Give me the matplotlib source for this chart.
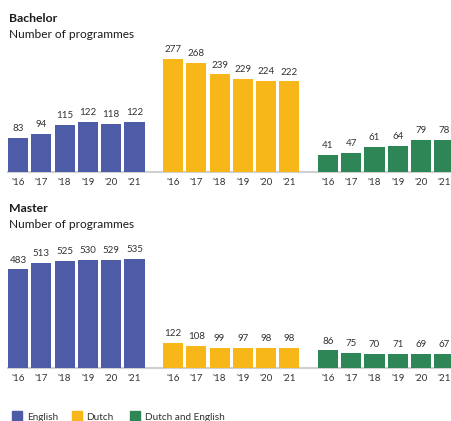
import matplotlib
matplotlib.use("Agg")
import matplotlib.pyplot as plt
from matplotlib.patches import Rectangle

years = ["'16", "'17", "'18", "'19", "'20", "'21"]
groups = ["English", "Dutch", "Dutch and English"]
colors = ["#4E5BA6", "#F7B718", "#2E8555"]

bachelor_english = [83, 94, 115, 122, 118, 122]
bachelor_dutch = [277, 268, 239, 229, 224, 222]
bachelor_both = [41, 47, 61, 64, 79, 78]

master_english = [483, 513, 525, 530, 529, 535]
master_dutch = [122, 108, 99, 97, 98, 98]
master_both = [86, 75, 70, 71, 69, 67]

plt.rcParams['font.family'] = ['Lato', 'DejaVu Sans']

W, H = 451, 421
fig = plt.figure(figsize=(W / 100, H / 100), dpi=100)

pitch_px = 23.3
group_offset = 6.65
bar_w = 0.86
x_left = -18 / pitch_px
x_right = x_left + W / pitch_px


def panel(baseline_px, height_px, ymax, series):
    ax = fig.add_axes([0, (H - baseline_px) / H, 1, height_px / H])
    ax.set_xlim(x_left, x_right)
    ax.set_ylim(0, ymax)
    ticks, labels = [], []
    for g, vals in enumerate(series):
        xs = [i + g * group_offset for i in range(len(vals))]
        ax.bar(xs, vals, width=bar_w, color=colors[g], zorder=2)
        for x, v in zip(xs, vals):
            ax.annotate(str(v), (x, v), xytext=(0, 3.5), textcoords='offset points',
                        ha='center', va='bottom', fontsize=7, color='#333333')
        ticks += xs
        labels += years
    ax.axhline(0, xmin=(-bar_w / 2 - x_left) / (x_right - x_left), xmax=1,
               color='#d0d0d0', lw=1.5, zorder=1, clip_on=False)
    ax.set_xticks(ticks)
    ax.set_xticklabels(labels, fontsize=7, color='#333333')
    ax.tick_params(axis='x', length=0, pad=4)
    ax.set_yticks([])
    for s in ax.spines.values():
        s.set_visible(False)
    ax.patch.set_alpha(0)
    return ax


panel(172, 132, 132 / 0.408, [bachelor_english, bachelor_dutch, bachelor_both])
panel(368, 132, 132 / 0.204, [master_english, master_dutch, master_both])

fig.text(9 / W, 1 - 18 / H, "Bachelor", fontsize=8.8, fontweight='bold',
         color='#1a1a1a', va='center', ha='left')
fig.text(9 / W, 1 - 34 / H, "Number of programmes", fontsize=8.6,
         color='#1a1a1a', va='center', ha='left')
fig.text(9 / W, 1 - 208 / H, "Master", fontsize=8.8, fontweight='bold',
         color='#1a1a1a', va='center', ha='left')
fig.text(9 / W, 1 - 224 / H, "Number of programmes", fontsize=8.6,
         color='#1a1a1a', va='center', ha='left')

legend_x = [12, 72, 130]
text_x = [27, 86, 145]
for lx, tx, c, name in zip(legend_x, text_x, colors, groups):
    fig.patches.append(Rectangle((lx / W, 0), 10 / W, 10 / H, transform=fig.transFigure,
                                 color=c, figure=fig))
    fig.text(tx / W, 1 - 417 / H, name, fontsize=7.2, color='#333333',
             va='center', ha='left')

fig.savefig("out.png", dpi=100)
